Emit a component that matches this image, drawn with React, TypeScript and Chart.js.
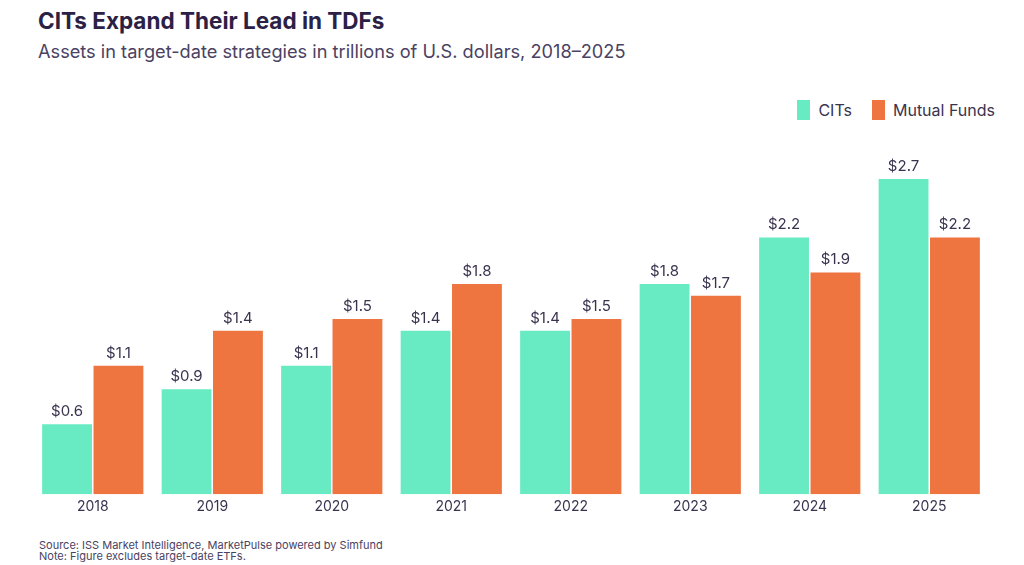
import { useRef, useEffect } from "react";
import { Chart, registerables, type ChartConfiguration, type Plugin } from "chart.js";

Chart.register(...registerables);

const years = ["2018", "2019", "2020", "2021", "2022", "2023", "2024", "2025"];
const citValues = [0.6, 0.9, 1.1, 1.4, 1.4, 1.8, 2.2, 2.7];
const mutualFundValues = [1.1, 1.4, 1.5, 1.8, 1.5, 1.7, 1.9, 2.2];

const TEAL = "#68EBC3";
const ORANGE = "#EE7440";
const INK = "#2B2145";
const FONT = "Inter, 'Noto Sans', sans-serif";

// draws "$x.x" over every bar
const valueLabels: Plugin<"bar"> = {
  id: "valueLabels",
  afterDatasetsDraw(chart) {
    const ctx = chart.ctx;
    ctx.save();
    ctx.font = `15px ${FONT}`;
    ctx.fillStyle = "#3A3350";
    ctx.textAlign = "center";
    ctx.textBaseline = "bottom";
    chart.data.datasets.forEach((ds, i) => {
      chart.getDatasetMeta(i).data.forEach((bar, j) => {
        const v = ds.data[j] as number;
        ctx.fillText("$" + v.toFixed(1), bar.x, bar.y - 5);
      });
    });
    ctx.restore();
  },
};

export default function App() {
  const chartRef = useRef<HTMLCanvasElement | null>(null);
  const chartInstanceRef = useRef<Chart | null>(null);

  useEffect(() => {
    if (!chartRef.current) return;
    const ctx = chartRef.current.getContext("2d");
    if (!ctx) return;
    if (chartInstanceRef.current) chartInstanceRef.current.destroy();

    const config: ChartConfiguration<"bar"> = {
      type: "bar",
      data: {
        labels: years,
        datasets: [
          {
            label: "CITs",
            data: citValues,
            backgroundColor: TEAL,
            categoryPercentage: 0.86,
            barPercentage: 0.97,
          },
          {
            label: "Mutual Funds",
            data: mutualFundValues,
            backgroundColor: ORANGE,
            categoryPercentage: 0.86,
            barPercentage: 0.97,
          },
        ],
      },
      options: {
        animation: false,
        responsive: false,
        maintainAspectRatio: false,
        layout: { padding: { left: 33, right: 35, top: 14, bottom: 14 } },
        plugins: {
          legend: { display: false },
          tooltip: { enabled: false },
        },
        scales: {
          x: {
            grid: { display: false, drawTicks: false },
            border: { display: false },
            ticks: {
              color: "#3A3350",
              font: { family: FONT, size: 14 },
              padding: 4,
            },
          },
          y: {
            display: false,
            min: 0,
            max: 3,
          },
        },
      },
      plugins: [valueLabels],
    };

    chartInstanceRef.current = new Chart(ctx, config);
    return () => {
      if (chartInstanceRef.current) {
        chartInstanceRef.current.destroy();
        chartInstanceRef.current = null;
      }
    };
  }, []);

  return (
    <div
      style={{
        position: "fixed",
        left: 0,
        top: 0,
        width: 1024,
        height: 565,
        background: "#fff",
        fontFamily: FONT,
        color: INK,
      }}
    >
      <div style={{ position: "absolute", left: 38, top: 7, fontSize: 22.5, fontWeight: 700 }}>
        CITs Expand Their Lead in TDFs
      </div>
      <div style={{ position: "absolute", left: 38, top: 40, fontSize: 18.2, color: "#4A4262" }}>
        Assets in target-date strategies in trillions of U.S. dollars, 2018–2025
      </div>
      <div
        style={{
          position: "absolute",
          right: 29,
          top: 100,
          display: "flex",
          alignItems: "center",
          fontSize: 16,
          color: "#3A3350",
        }}
      >
        <span style={{ width: 13, height: 20, background: TEAL, marginRight: 8 }} />
        <span style={{ marginRight: 20 }}>CITs</span>
        <span style={{ width: 13, height: 20, background: ORANGE, marginRight: 8 }} />
        <span>Mutual Funds</span>
      </div>
      <canvas
        ref={chartRef}
        width={1024}
        height={403}
        style={{ position: "absolute", left: 0, top: 130, width: 1024, height: 403 }}
      />
      <div style={{ position: "absolute", left: 39, top: 540, fontSize: 11, lineHeight: "11px", color: "#4A4262" }}>
        Source: ISS Market Intelligence, MarketPulse powered by Simfund
        <br />
        Note: Figure excludes target-date ETFs.
      </div>
    </div>
  );
}
